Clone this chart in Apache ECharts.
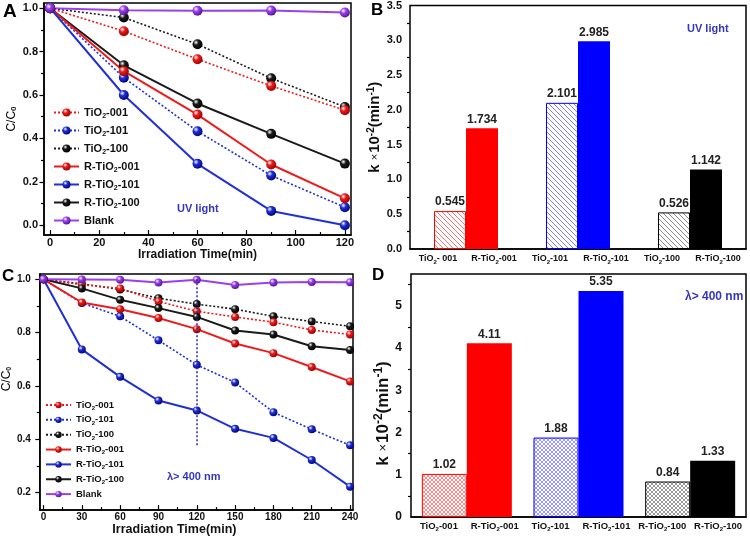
<!DOCTYPE html>
<html><head><meta charset="utf-8">
<script src="https://cdn.jsdelivr.net/npm/echarts@6/dist/echarts.min.js"></script>
<style>html,body{margin:0;padding:0;background:#fff}#c{width:750px;height:537px}</style>
</head><body><div id="c"></div>
<script>
// ---------------- DATA ----------------
const seriesNames = ['TiO2-001','TiO2-101','TiO2-100','R-TiO2-001','R-TiO2-101','R-TiO2-100','Blank'];

const timeUV = [0, 30, 60, 90, 120];
const uvTiO2_001   = [1.0, 0.894, 0.765, 0.642, 0.530];
const uvTiO2_101   = [1.0, 0.680, 0.433, 0.229, 0.083];
const uvTiO2_100   = [1.0, 0.957, 0.834, 0.677, 0.545];
const uvR_TiO2_001 = [1.0, 0.710, 0.510, 0.280, 0.124];
const uvR_TiO2_101 = [1.0, 0.600, 0.283, 0.066, 0.000];
const uvR_TiO2_100 = [1.0, 0.737, 0.561, 0.421, 0.284];
const uvBlank      = [1.0, 0.991, 0.988, 0.989, 0.980];

const timeVis = [0, 30, 60, 90, 120, 150, 180, 210, 240];
const visTiO2_001   = [1.0, 0.980, 0.966, 0.917, 0.880, 0.859, 0.839, 0.810, 0.793];
const visTiO2_101   = [1.0, 0.911, 0.861, 0.771, 0.679, 0.613, 0.501, 0.437, 0.377];
const visTiO2_100   = [1.0, 0.983, 0.962, 0.929, 0.907, 0.888, 0.861, 0.842, 0.824];
const visR_TiO2_001 = [1.0, 0.913, 0.888, 0.855, 0.813, 0.759, 0.723, 0.671, 0.617];
const visR_TiO2_101 = [1.0, 0.737, 0.634, 0.545, 0.508, 0.439, 0.405, 0.322, 0.222];
const visR_TiO2_100 = [1.0, 0.966, 0.923, 0.892, 0.859, 0.808, 0.793, 0.749, 0.735];
const visBlank      = [1.0, 0.999, 0.998, 0.988, 0.998, 0.979, 0.988, 0.990, 0.989];

// vertical marker in panel C (data units)
const markTime = 120;
const markTop = 1.0;
const markBottom = 0.375;

const barGroups = ['001', '101', '100'];
const barLabelsUV  = ['TiO2- 001', 'R-TiO2-001', 'TiO2-101', 'R-TiO2-101', 'TiO2-100', 'R-TiO2-100'];
const kUV_TiO2 = [0.545, 2.101, 0.526];
const kUV_R    = [1.734, 2.985, 1.142];
const barLabelsVis = ['TiO2-001', 'R-TiO2-001', 'TiO2-101', 'R-TiO2-101', 'R-TiO2-100', 'R-TiO2-100'];
const kVis_TiO2 = [1.02, 1.88, 0.84];
const kVis_R    = [4.11, 5.35, 1.33];

// tick values
const ticksUVx   = [0, 20, 40, 60, 80, 100, 120];
const minorUVx   = [10, 30, 50, 70, 90, 110];
const ticksUVy   = [0, 0.2, 0.4, 0.6, 0.8, 1.0];
const minorUVy   = [0.1, 0.3, 0.5, 0.7, 0.9];
const ticksVisX  = [0, 30, 60, 90, 120, 150, 180, 210, 240];
const minorVisX  = [15, 45, 75, 105, 135, 165, 195, 225];
const ticksVisY  = [0.2, 0.4, 0.6, 0.8, 1.0];
const minorVisY  = [0.3, 0.5, 0.7, 0.9];
const ticksKuv   = [0, 0.5, 1.0, 1.5, 2.0, 2.5, 3.0, 3.5];
const minorKuv   = [0.25, 0.75, 1.25, 1.75, 2.25, 2.75, 3.25];
const ticksKvis  = [0, 1, 2, 3, 4, 5];
const minorKvis  = [0.5, 1.5, 2.5, 3.5, 4.5, 5.5];

// ---------------- STYLE ----------------
const FONT = 'Liberation Sans, Arial, Helvetica, sans-serif';
const RED = '#ee1b1b', BLUE = '#1f2fd6', BLACK = '#1a1a1a', PURPLE = '#9a40f0';
const ANNO = '#3535c0';

function ball(c, dark) {
  return {type: 'radial', x: 0.35, y: 0.32, r: 0.75,
    colorStops: [{offset: 0, color: '#ffffff'}, {offset: 0.35, color: c}, {offset: 1, color: dark}]};
}
const lineStyles = {
  'TiO2-001':   {color: RED,    dark: '#900000', dash: [2, 2]},
  'TiO2-101':   {color: BLUE,   dark: '#000070', dash: [2, 2]},
  'TiO2-100':   {color: BLACK,  dark: '#000000', dash: [2, 2]},
  'R-TiO2-001': {color: RED,    dark: '#900000', dash: 'solid'},
  'R-TiO2-101': {color: BLUE,   dark: '#000070', dash: 'solid'},
  'R-TiO2-100': {color: BLACK,  dark: '#000000', dash: 'solid'},
  'Blank':      {color: PURPLE, dark: '#50108a', dash: 'solid'}
};

function rich(s) { return '{t|' + s.replace(/TiO2/g, 'TiO}{s|2}{t|') + '}'; }
function richStyles(size) {
  return {
    t: {fontFamily: FONT, fontWeight: 'bold', fontSize: size, color: '#111', lineHeight: size + 3},
    s: {fontFamily: FONT, fontWeight: 'bold', fontSize: Math.round(size * 0.65), color: '#111',
        lineHeight: Math.round(size * 0.65), verticalAlign: 'bottom'}
  };
}
function kName(size) {
  return {
    text: '{t|k }{x|×}{t|10}{p|-2}{t|(min}{p|-1}{t|)}',
    rich: {
      t: {fontFamily: FONT, fontWeight: 'bold', fontSize: size, color: '#111', lineHeight: size + 4},
      x: {fontFamily: FONT, fontSize: size - 4, color: '#111', lineHeight: size + 4, padding: [0, 1, 0, 0]},
      p: {fontFamily: FONT, fontWeight: 'bold', fontSize: size - 5, color: '#111', lineHeight: size - 5, verticalAlign: 'top'}
    }
  };
}

function hatch(color, cross, step) {
  const c = document.createElement('canvas');
  c.width = step; c.height = step;
  const g = c.getContext('2d');
  g.strokeStyle = color; g.lineWidth = 1;
  g.beginPath();
  g.moveTo(-1, -1); g.lineTo(step + 1, step + 1);
  if (cross) { g.moveTo(step + 1, -1); g.lineTo(-1, step + 1); }
  g.stroke();
  return c;
}
const groupColors = ['#ff0000', '#0000ff', '#000000'];
const hatchUV = [hatch('rgba(255,0,0,0.55)', false, 5), hatch('rgba(0,0,255,0.5)', false, 5), hatch('rgba(0,0,0,0.45)', false, 5)];
const hatchVis = [hatch('rgba(255,0,0,0.45)', true, 4), hatch('rgba(0,0,255,0.4)', true, 4), hatch('rgba(0,0,0,0.4)', true, 4)];

// ---------------- AXES ----------------
const axisLine = {onZero: false, lineStyle: {color: '#000', width: 1.5}};
const tickStyle = {color: '#000', width: 1.2};
function lbl(size, margin, values, fmt) {
  const o = {fontFamily: FONT, fontWeight: 'bold', fontSize: size, color: '#111', margin: margin, customValues: values};
  if (fmt) o.formatter = fmt;
  return o;
}
function minorAxis(gridIndex, min, max, pos, values, inside) {
  return {type: 'value', gridIndex, min, max, position: pos,
    axisLine: {show: false, onZero: false}, axisLabel: {show: false}, splitLine: {show: false},
    axisTick: {show: true, inside: inside, length: 3, lineStyle: tickStyle, customValues: values}};
}

const xAxis = [
  // A
  {type: 'value', gridIndex: 0, min: -2.5, max: 122.5, position: 'bottom', axisLine,
   axisTick: {inside: true, length: 5, lineStyle: tickStyle, customValues: ticksUVx},
   axisLabel: lbl(11, 2, ticksUVx), splitLine: {show: false},
   name: 'Irradiation Time(min)', nameLocation: 'middle', nameGap: 8,
   nameTextStyle: {fontFamily: FONT, fontWeight: 'bold', fontSize: 12, color: '#111'}},
  minorAxis(0, -2.5, 122.5, 'bottom', minorUVx, true),
  // B
  {type: 'category', gridIndex: 1, data: barGroups, position: 'bottom', axisLine,
   axisTick: {show: false}, axisLabel: {show: false}},
  {type: 'category', gridIndex: 1, data: barLabelsUV, position: 'bottom',
   axisLine: {show: false, onZero: false}, axisTick: {show: false},
   axisLabel: {interval: 0, margin: 4, formatter: v => rich(v), rich: richStyles(9)}},
  // C
  {type: 'value', gridIndex: 2, min: -2.9, max: 242.3, position: 'bottom', axisLine,
   axisTick: {inside: true, length: 5, lineStyle: tickStyle, customValues: ticksVisX},
   axisLabel: lbl(10, 2, ticksVisX), splitLine: {show: false},
   name: 'Irradiation Time(min)', nameLocation: 'middle', nameGap: 9,
   nameTextStyle: {fontFamily: FONT, fontWeight: 'bold', fontSize: 12.5, color: '#111', padding: [0, 44, 0, 0]}},
  minorAxis(2, -2.9, 242.3, 'bottom', minorVisX, true),
  // D
  {type: 'category', gridIndex: 3, data: barGroups, position: 'bottom', axisLine,
   axisTick: {show: false}, axisLabel: {show: false}},
  {type: 'category', gridIndex: 3, data: barLabelsVis, position: 'bottom',
   axisLine: {show: false, onZero: false}, axisTick: {show: false},
   axisLabel: {interval: 0, margin: 3, formatter: v => rich(v), rich: richStyles(9.5)}}
];

const yAxis = [
  // A
  {type: 'value', gridIndex: 0, min: -0.045, max: 1.024, position: 'left', axisLine,
   axisTick: {length: 4.5, lineStyle: tickStyle, customValues: ticksUVy},
   axisLabel: lbl(11, 6, ticksUVy, v => v.toFixed(1)), splitLine: {show: false},
   name: 'C/C{s|0}', nameLocation: 'middle', nameGap: 26,
   nameTextStyle: {rich: richStyles(12)}},
  minorAxis(0, -0.045, 1.024, 'left', minorUVy, false),
  // B
  {type: 'value', gridIndex: 1, min: 0, max: 3.5, position: 'left', axisLine,
   axisTick: {length: 4.5, lineStyle: tickStyle, customValues: ticksKuv},
   axisLabel: lbl(11, 8, ticksKuv, v => v.toFixed(1)), splitLine: {show: false},
   name: kName(15).text, nameLocation: 'middle', nameGap: 18,
   nameTextStyle: {rich: kName(15).rich}},
  minorAxis(1, 0, 3.5, 'left', minorKuv, false),
  // C
  {type: 'value', gridIndex: 2, min: 0.134, max: 1.02, position: 'left', axisLine,
   axisTick: {length: 4.5, lineStyle: tickStyle, customValues: ticksVisY},
   axisLabel: lbl(10, 9, ticksVisY, v => v.toFixed(1)), splitLine: {show: false},
   name: 'C/C{s|0}', nameLocation: 'middle', nameGap: 24,
   nameTextStyle: {rich: richStyles(11.5), padding: [0, 0, 0, 26]}},
  minorAxis(2, 0.134, 1.02, 'left', minorVisY, false),
  // D
  {type: 'value', gridIndex: 3, min: 0, max: 5.75, position: 'left', axisLine,
   axisTick: {length: 4.5, lineStyle: tickStyle, customValues: ticksKvis},
   axisLabel: lbl(12, 9, ticksKvis), splitLine: {show: false},
   name: kName(17).text, nameLocation: 'middle', nameGap: 16,
   nameTextStyle: {rich: kName(17).rich, padding: [0, 36, 0, 0]}},
  minorAxis(3, 0, 5.75, 'left', minorKvis, false)
];

// ---------------- SERIES ----------------
function zip(xs, ys) { return xs.map((x, i) => [x, ys[i]]); }
function lineSeries(name, xs, ys, xi, yi, size, width) {
  const st = lineStyles[name];
  return {type: 'line', name, xAxisIndex: xi, yAxisIndex: yi, data: zip(xs, ys),
    symbol: 'circle', symbolSize: size, showSymbol: true,
    lineStyle: {color: st.color, width: st.dash === 'solid' ? width : width * 0.8, type: st.dash},
    itemStyle: {color: ball(st.color, st.dark), borderWidth: 0},
    emphasis: {disabled: true}};
}
const uvSets = [uvTiO2_100, uvTiO2_001, uvTiO2_101, uvR_TiO2_100, uvR_TiO2_001, uvR_TiO2_101, uvBlank];
const visSets = [visTiO2_100, visTiO2_001, visTiO2_101, visR_TiO2_100, visR_TiO2_001, visR_TiO2_101, visBlank];
const drawOrder = ['TiO2-100', 'TiO2-001', 'TiO2-101', 'R-TiO2-100', 'R-TiO2-001', 'R-TiO2-101', 'Blank'];

const series = [];
drawOrder.forEach((n, i) => series.push(lineSeries(n, timeUV, uvSets[i], 0, 0, 10, 2)));
drawOrder.forEach((n, i) => {
  const s = lineSeries(n, timeVis, visSets[i], 4, 4, 8, 2);
  if (n === 'TiO2-101') {
    s.markLine = {silent: true, symbol: 'none', label: {show: false}, animation: false,
      lineStyle: {color: '#2a2a9a', width: 1.5, type: [2, 2]},
      data: [[{coord: [markTime, markTop]}, {coord: [markTime, markBottom]}]]};
  }
  series.push(s);
});

function barSeries(name, vals, xi, yi, width, hatched, patterns) {
  return {type: 'bar', name, xAxisIndex: xi, yAxisIndex: yi, barWidth: width, barGap: '0%',
    data: vals.map((v, i) => ({value: v, itemStyle: hatched
      ? {color: {image: patterns[i], repeat: 'repeat'}, borderColor: groupColors[i], borderWidth: 1}
      : {color: groupColors[i]}})),
    label: {show: true, position: 'top', distance: 3, fontFamily: FONT, fontWeight: 'bold', fontSize: 12, color: '#222',
      formatter: p => String(p.value)},
    emphasis: {disabled: true}};
}
series.push(barSeries('k-TiO2-UV', kUV_TiO2, 2, 2, 32, true, hatchUV));
series.push(barSeries('k-R-TiO2-UV', kUV_R, 2, 2, 32, false));
series.push(barSeries('k-TiO2-Vis', kVis_TiO2, 6, 6, 45, true, hatchVis));
series.push(barSeries('k-R-TiO2-Vis', kVis_R, 6, 6, 45, false));

// ---------------- OPTION ----------------
const option = {
  animation: false,
  backgroundColor: '#fff',
  grid: [
    {left: 44, top: 3, width: 307, height: 232, show: true, borderColor: '#000', borderWidth: 1.5},
    {left: 410, top: 5, width: 336, height: 244, show: true, borderColor: '#000', borderWidth: 1.5},
    {left: 38, top: 274, width: 315, height: 238, show: true, borderColor: '#000', borderWidth: 1.5},
    {left: 411, top: 274, width: 335, height: 243, show: true, borderColor: '#000', borderWidth: 1.5}
  ],
  legend: [
    {data: seriesNames, orient: 'vertical', left: 53, top: 107, padding: 0, itemWidth: 25, itemHeight: 10, itemGap: 5.5,
     formatter: n => rich(n), textStyle: {rich: richStyles(11)}, selectedMode: false},
    {data: seriesNames, orient: 'vertical', left: 45, top: 400, padding: 0, itemWidth: 25, itemHeight: 8, itemGap: 3.6,
     formatter: n => rich(n), textStyle: {rich: richStyles(9.5)}, selectedMode: false}
  ],
  xAxis, yAxis, series,
  graphic: [
    {type: 'text', left: 3, top: 2, style: {text: 'A', font: 'bold 19px ' + FONT, fill: '#000'}},
    {type: 'text', left: 371, top: 2, style: {text: 'B', font: 'bold 17px ' + FONT, fill: '#000'}},
    {type: 'text', left: 2, top: 268, style: {text: 'C', font: 'bold 17px ' + FONT, fill: '#000'}},
    {type: 'text', left: 372, top: 267, style: {text: 'D', font: 'bold 17px ' + FONT, fill: '#000'}},
    {type: 'text', left: 177, top: 203, style: {text: 'UV light', font: 'bold 11px ' + FONT, fill: ANNO}},
    {type: 'text', left: 687, top: 23, style: {text: 'UV light', font: 'bold 11px ' + FONT, fill: ANNO}},
    {type: 'text', left: 167, top: 471, style: {text: 'λ> 400 nm', font: 'bold 11px ' + FONT, fill: ANNO}},
    {type: 'text', left: 685, top: 291, style: {text: 'λ> 400 nm', font: 'bold 12px ' + FONT, fill: ANNO}}
  ]
};
const chart = echarts.init(document.getElementById('c'));
chart.setOption(option);
</script>
</body></html>
